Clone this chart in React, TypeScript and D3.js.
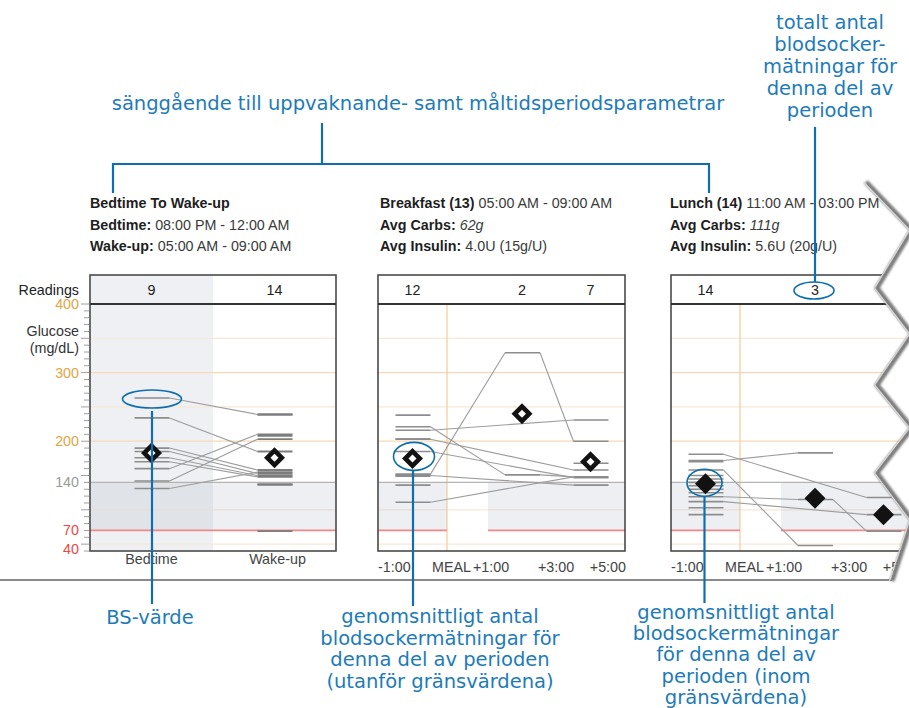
import React from "react";
import * as d3 from "d3";

// ---------- data ----------
const glucoseLabels = [400, 300, 200, 140, 70, 40];
const gridValues = [50, 100, 200, 250, 300, 350];
const targetLow = 70;
const targetHigh = 140;

const overnightLabels = ["Bedtime", "Wake-up"];
const overnightCounts = [9, 14];
const bedtimeReadings = [263, 234, 190, 185, 176, 170, 160, 142, 131];
const wakeupReadings = [239, 239, 210, 208, 203, 185, 158, 155, 153, 150, 148, 137, 137, 69];
const overnightAverages = [183, 176];
const overnightTracks = [
  [263, 239], [234, 185], [190, 158], [185, 153], [176, 150],
  [170, 148], [160, 210], [142, 203], [131, 155],
];

const mealSlotHours = [-0.5, 2, 4];

const breakfastCounts = [12, 2, 7];
const breakfastPre = [238, 221, 216, 203, 203, 185, 152, 151, 150, 149, 136, 111];
const breakfastPost1 = [329, 151];
const breakfastPost3 = [231, 200, 168, 158, 148, 147, 136];
const breakfastAverages = [175, 240, 170];
const breakfastTracks = [
  [152, 329, 200], [221, 151, 148], [216, null, 231], [203, null, 158],
  [185, null, 147], [111, null, 148], [150, null, 136],
];

const lunchCounts = [14, 3, null];
const lunchPre = [181, 172, 170, 158, 150, 145, 140, 135, 130, 125, 119, 112, 103, 93];
const lunchPost1 = [183, 115, 48];
const lunchPost3 = [118, 93, 69];
const lunchAverages = [138, 117, 93];
const lunchTracks = [
  [172, 183, null], [181, null, 118], [158, 48, null], [119, 115, 69], [112, null, 93],
];

const overnightTitle = [
  ["Bedtime To Wake-up", "", false],
  ["Bedtime:", " 08:00 PM - 12:00 AM", false],
  ["Wake-up:", " 05:00 AM - 09:00 AM", false],
];
const breakfastTitle = [
  ["Breakfast (13)", " 05:00 AM - 09:00 AM", false],
  ["Avg Carbs:", " 62g", true],
  ["Avg Insulin:", " 4.0U (15g/U)", false],
];
const lunchTitle = [
  ["Lunch (14)", " 11:00 AM - 03:00 PM", false],
  ["Avg Carbs:", " 111g", true],
  ["Avg Insulin:", " 5.6U (20g/U)", false],
];

const noteTop = "sänggående till uppvaknande- samt måltidsperiodsparametrar";
const noteCount = ["totalt antal", "blodsocker-", "mätningar för", "denna del av", "perioden"];
const noteBS = ["BS-värde"];
const noteOutside = ["genomsnittligt antal", "blodsockermätningar för", "denna del av perioden", "(utanför gränsvärdena)"];
const noteInside = ["genomsnittligt antal", "blodsockermätningar", "för denna del av", "perioden (inom", "gränsvärdena)"];

// ---------- drawing ----------
const chartFont = "'Liberation Sans', Arial, Helvetica, sans-serif";
const noteFont = "'DejaVu Sans', sans-serif";
const BLUE_TEXT = "#1d7bb9";
const BLUE_LINE = "#0f6fae";
const FS = 14.3;

const boxTop = 275;
const plotTop = 304;
const plotBottom = 551;
const y = d3.scaleLinear().domain([40, 400]).range([plotBottom, plotTop]);

const HALF_L = 17;
const HALF_R = 18;

function Diamond({ cx, cy, value }: { cx: number; cy: number; value: number }) {
  const open = value > targetHigh || value < targetLow;
  return (
    <g transform={`translate(${cx},${cy})`}>
      <path d="M0,-10.5L10.5,0L0,10.5L-10.5,0Z" fill="#121212" />
      {open && <path d="M0,-4L4,0L0,4L-4,0Z" fill="#fff" />}
    </g>
  );
}

function Title({ x, lines }: { x: number; lines: any[] }) {
  return (
    <g fontFamily={chartFont} fontSize={FS}>
      {lines.map((l, i) => (
        <text key={i} x={x} y={208 + i * 21.5}>
          <tspan fontWeight="bold" fill="#1e1e1e">{l[0]}</tspan>
          <tspan fill="#3a3a3a" fontStyle={l[2] ? "italic" : "normal"}>{l[1]}</tspan>
        </text>
      ))}
    </g>
  );
}

function Readings({ values, cx, color = "#8d8d8d", w = 1.6 }: any) {
  return (
    <g>
      {values.map((v: number, i: number) => (
        <line key={i} x1={cx - HALF_L} x2={cx + HALF_R} y1={y(v)} y2={y(v)} stroke={color} strokeWidth={w} />
      ))}
    </g>
  );
}

function Tracks({ tracks, centers }: { tracks: (number | null)[][]; centers: number[] }) {
  const segs: any[] = [];
  tracks.forEach((t, ti) => {
    let prev = -1;
    t.forEach((v, i) => {
      if (v == null) return;
      if (prev >= 0) {
        segs.push(
          <line key={`${ti}-${i}`} x1={centers[prev] + HALF_R} y1={y(t[prev] as number)}
            x2={centers[i] - HALF_L} y2={y(v)} stroke="#9d9d9d" strokeWidth={1.1} />
        );
      }
      prev = i;
    });
  });
  return <g>{segs}</g>;
}

function Grid({ x0, x1 }: { x0: number; x1: number }) {
  return (
    <g>
      {gridValues.map((g) => (
        <line key={g} x1={x0} x2={x1} y1={y(g)} y2={y(g)} stroke={g === 200 || g === 300 ? "#f6d9b6" : "#f8e8d6"} strokeWidth={1.2} />
      ))}
    </g>
  );
}

function Box({ x0, x1 }: { x0: number; x1: number }) {
  return (
    <g fill="none">
      <rect x={x0} y={boxTop} width={x1 - x0} height={plotBottom - boxTop} stroke="#4a4a4a" strokeWidth={1.6} />
      <line x1={x0} x2={x1} y1={plotTop} y2={plotTop} stroke="#333" strokeWidth={2.2} />
    </g>
  );
}

function OvernightPanel({ x0, width }: { x0: number; width: number }) {
  const xb = d3.scaleBand().domain(overnightLabels).range([x0, x0 + width]);
  const centers = overnightLabels.map((l) => (xb(l) as number) + xb.bandwidth() / 2);
  const x1 = x0 + width;
  return (
    <g>
      <rect x={x0} y={boxTop} width={xb.bandwidth()} height={plotBottom - boxTop} fill="#eef0f3" />
      <Grid x0={x0} x1={x1} />
      <rect x={x0} y={y(targetHigh)} width={width} height={y(targetLow) - y(targetHigh)} fill="rgb(190,198,208)" fillOpacity={0.28} />
      <line x1={x0} x2={x1} y1={y(targetHigh)} y2={y(targetHigh)} stroke="#b4b4b4" strokeWidth={1.2} />
      <line x1={x0} x2={x1} y1={y(targetLow)} y2={y(targetLow)} stroke="#f08a8a" strokeWidth={1.8} />
      <Tracks tracks={overnightTracks} centers={centers} />
      <Readings values={bedtimeReadings} cx={centers[0]} />
      <Readings values={wakeupReadings} cx={centers[1]} color="#7d7d7d" w={1.9} />
      {overnightAverages.map((a, i) => <Diamond key={i} cx={centers[i]} cy={y(a)} value={a} />)}
      <Box x0={x0} x1={x1} />
      <g fontFamily={chartFont} fontSize={FS} fill="#222" textAnchor="middle">
        {overnightCounts.map((c, i) => <text key={i} x={centers[i]} y={295}>{c}</text>)}
      </g>
      <g fontFamily={chartFont} fontSize={FS} fill="#444" textAnchor="middle">
        {overnightLabels.map((l, i) => <text key={i} x={centers[i] + (i ? 3 : 0)} y={564}>{l}</text>)}
      </g>
    </g>
  );
}

function MealPanel({ x0, width, counts, pre, post1, post3, averages, tracks }: any) {
  const xt = d3.scaleLinear().domain([-1, 0, 1, 3, 5]).range([x0, x0 + 69, x0 + 110, x0 + 178, x0 + width]);
  const centers = mealSlotHours.map((h) => xt(h));
  const x1 = x0 + width;
  const bandY = y(targetHigh);
  const bandH = y(targetLow) - y(targetHigh);
  return (
    <g>
      <Grid x0={x0} x1={x1} />
      <line x1={xt(0)} x2={xt(0)} y1={plotTop} y2={plotBottom} stroke="#f5cf9f" strokeWidth={1.3} />
      <rect x={xt(-1)} y={bandY} width={xt(0) - xt(-1)} height={bandH} fill="rgb(190,198,208)" fillOpacity={0.28} />
      <rect x={xt(1)} y={bandY} width={xt(5) - xt(1)} height={bandH} fill="rgb(190,198,208)" fillOpacity={0.28} />
      <line x1={x0} x2={x1} y1={bandY} y2={bandY} stroke="#b4b4b4" strokeWidth={1.2} />
      <line x1={xt(-1)} x2={xt(0)} y1={y(targetLow)} y2={y(targetLow)} stroke="#f08a8a" strokeWidth={1.8} />
      <line x1={xt(1)} x2={xt(5)} y1={y(targetLow)} y2={y(targetLow)} stroke="#f08a8a" strokeWidth={1.8} />
      <Tracks tracks={tracks} centers={centers} />
      <Readings values={pre} cx={centers[0]} />
      <Readings values={post1} cx={centers[1]} />
      <Readings values={post3} cx={centers[2]} />
      {averages.map((a: number, i: number) => <Diamond key={i} cx={centers[i]} cy={y(a)} value={a} />)}
      <Box x0={x0} x1={x1} />
      <g fontFamily={chartFont} fontSize={FS} fill="#222" textAnchor="middle">
        {counts.map((c: number | null, i: number) => c == null ? null : <text key={i} x={centers[i]} y={295}>{c}</text>)}
      </g>
      <g fontFamily={chartFont} fontSize={FS} fill="#444">
        <text x={xt(-1)} y={572}>-1:00</text>
        <text x={xt(1) - 17} y={572} textAnchor="end">MEAL</text>
        <text x={xt(1) + 3} y={572} textAnchor="middle">+1:00</text>
        <text x={xt(3)} y={572} textAnchor="middle">+3:00</text>
        <text x={xt(5) + 1} y={572} textAnchor="end">+5:00</text>
      </g>
    </g>
  );
}

export default function App() {
  const W = 909;
  const H = 708;
  const leftX0 = 90;
  const leftW = 246;
  const bX0 = 378;
  const lX0 = 671;
  const mealW = 247;

  const minorTicks = d3.range(40, 401, 10);
  const labelColor = (v: number) => (v >= 200 ? "#e2a444" : v === 140 ? "#9a9a9a" : "#f04646");

  const xbL = d3.scaleBand().domain(overnightLabels).range([leftX0, leftX0 + leftW]);
  const bedCx = (xbL("Bedtime") as number) + xbL.bandwidth() / 2;
  const xtB = d3.scaleLinear().domain([-1, 0, 1, 3, 5]).range([bX0, bX0 + 69, bX0 + 110, bX0 + 178, bX0 + mealW]);
  const xtL = d3.scaleLinear().domain([-1, 0, 1, 3, 5]).range([lX0, lX0 + 69, lX0 + 110, lX0 + 178, lX0 + mealW]);
  const e1 = { cx: bedCx + 0.5, cy: y(d3.max(bedtimeReadings) as number) + 1, rx: 29.5, ry: 9 };
  const e2 = { cx: xtB(mealSlotHours[0]) + 1.5, cy: y(breakfastAverages[0]) - 2, rx: 20.5, ry: 14 };
  const e3 = { cx: xtL(mealSlotHours[0]) - 1, cy: y(lunchAverages[0]) - 1, rx: 17.5, ry: 13.5 };
  const e4 = { cx: xtL(mealSlotHours[1]) - 1, cy: 290.5, rx: 20, ry: 8.5 };

  const zig = "M866,182 L912,230 L877,288 L912,334 L877,385 L912,428 L877,473 L912,520 L892,581";

  return (
    <svg width={W} height={H} style={{ position: "absolute", left: 0, top: 0, background: "#fff" }}>
      <defs>
        <filter id="soft" x="-20%" y="-20%" width="140%" height="140%">
          <feGaussianBlur stdDeviation="0.9" />
        </filter>
      </defs>
      <rect x={0} y={0} width={W} height={H} fill="#fff" />

      <Title x={90} lines={overnightTitle} />
      <Title x={380} lines={breakfastTitle} />
      <Title x={670} lines={lunchTitle} />

      {/* left axis */}
      <g>
        {minorTicks.map((t) => (
          <line key={t} x1={t % 50 === 0 ? 81 : 84} x2={89} y1={y(t)} y2={y(t)} stroke="#a0a0a0" strokeWidth={1} />
        ))}
      </g>
      <g fontFamily={chartFont} fontSize={FS} textAnchor="end">
        <text x={79} y={295} fill="#222">Readings</text>
        <text x={79} y={336} fill="#333">Glucose</text>
        <text x={79} y={353} fill="#333">(mg/dL)</text>
        {glucoseLabels.map((v) => (
          <text key={v} x={79} y={y(v) + (v === 40 ? 3 : 5)} fill={labelColor(v)}>{v}</text>
        ))}
      </g>

      <OvernightPanel x0={leftX0} width={leftW} />
      <MealPanel x0={bX0} width={mealW} counts={breakfastCounts} pre={breakfastPre} post1={breakfastPost1}
        post3={breakfastPost3} averages={breakfastAverages} tracks={breakfastTracks} />
      <MealPanel x0={lX0} width={mealW} counts={lunchCounts} pre={lunchPre} post1={lunchPost1}
        post3={lunchPost3} averages={lunchAverages} tracks={lunchTracks} />

      {/* page bottom edge */}
      <line x1={0} x2={893} y1={582.5} y2={582.5} stroke="#cfcfcf" strokeWidth={3} filter="url(#soft)" />
      <line x1={0} x2={893} y1={580} y2={580} stroke="#8a8a8a" strokeWidth={1.8} />

      {/* torn right edge */}
      <path d={zig + " L912,600 L912,182 Z"} fill="#fff" />
      <path d={zig} fill="none" stroke="#7d7d7d" strokeWidth={5} strokeLinejoin="miter" filter="url(#soft)" />
      <path d={zig} fill="none" stroke="#d8d8d8" strokeWidth={1.2} transform="translate(-2.5,0)" />

      {/* annotations */}
      <g fill="none" stroke={BLUE_LINE} strokeWidth={2.2}>
        <line x1={322} x2={322} y1={123} y2={164} />
        <polyline points="113,193 113,164 709,164 709,193" />
        <ellipse cx={e1.cx} cy={e1.cy} rx={e1.rx} ry={e1.ry} strokeWidth={1.6} />
        <line x1={e1.cx} x2={e1.cx} y1={e1.cy + e1.ry + 3} y2={604} />
        <ellipse cx={e2.cx} cy={e2.cy} rx={e2.rx} ry={e2.ry} strokeWidth={1.6} />
        <line x1={e2.cx - 1} x2={e2.cx - 1} y1={e2.cy + e2.ry} y2={606} />
        <ellipse cx={e3.cx} cy={e3.cy} rx={e3.rx} ry={e3.ry} strokeWidth={1.6} />
        <line x1={e3.cx} x2={e3.cx} y1={e3.cy + e3.ry} y2={603} />
        <ellipse cx={e4.cx} cy={e4.cy} rx={e4.rx} ry={e4.ry} strokeWidth={1.6} />
        <line x1={e4.cx + 1} x2={e4.cx + 1} y1={127} y2={e4.cy - e4.ry} />
      </g>
      <g fontFamily={noteFont} fontSize={19.5} fill={BLUE_TEXT} textAnchor="middle">
        <text x={418} y={110}>{noteTop}</text>
        {noteCount.map((t, i) => <text key={i} x={830} y={29 + i * 22}>{t}</text>)}
        {noteBS.map((t, i) => <text key={i} x={150} y={624 + i * 21.5}>{t}</text>)}
        {noteOutside.map((t, i) => <text key={i} x={440} y={623 + i * 21.5}>{t}</text>)}
        {noteInside.map((t, i) => <text key={i} x={736} y={619 + i * 21.2}>{t}</text>)}
      </g>
    </svg>
  );
}
